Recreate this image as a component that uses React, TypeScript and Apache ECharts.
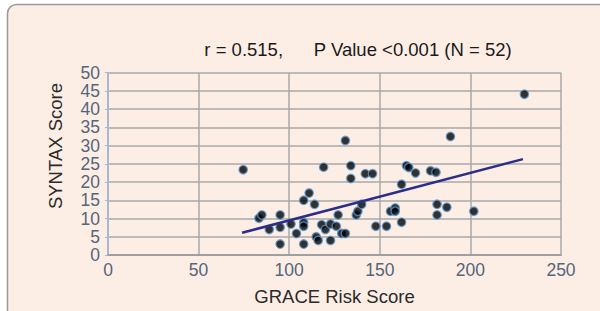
import React, { useEffect, useRef } from "react";
import * as echarts from "echarts";

const graceScores = [
  74.6, 83.3, 84.9, 89, 95, 95, 95, 101, 104, 108, 111, 114, 108, 108, 108, 114.9, 116, 117.9, 120, 119,
  122.8, 122.8, 126, 127, 129, 131, 131, 134, 134, 137, 137.9, 140, 142, 146, 147.8, 153.7, 155.9, 158.5, 158.5, 162,
  162, 164.7, 166, 169.7, 178, 181, 181.6, 181.6, 187, 189, 201.9, 229.8,
];
const syntaxScores = [
  23.4, 10.1, 11, 7, 11, 7.6, 3, 8.5, 5.9, 15, 17, 13.9, 8.9, 7.9, 3, 5, 4, 8.3, 7, 24.1,
  8.5, 4, 7.9, 11, 5.9, 5.9, 31.4, 24.5, 21, 11, 12, 13.9, 22.3, 22.3, 7.9, 7.9, 12, 12.9, 12, 9,
  19.4, 24.5, 24, 22.5, 23.1, 22.7, 13.9, 11, 13.1, 32.5, 12, 44.1,
];
const trendX = [74, 229];
const trendY = [6.1, 26.3];
const xTicks = [0, 50, 100, 150, 200, 250];
const yTicks = [0, 5, 10, 15, 20, 25, 30, 35, 40, 45, 50];
const titleText = "r = 0.515,      P Value <0.001 (N = 52)";
const xAxisName = "GRACE Risk Score";
const yAxisName = "SYNTAX Score";

export default function App() {
  const ref = useRef<HTMLDivElement>(null);
  useEffect(() => {
    if (!ref.current) return;
    const chart = echarts.init(ref.current, undefined, { renderer: "svg" });
    const font = "'Liberation Sans', Arial, sans-serif";
    chart.setOption({
      animation: false,
      backgroundColor: "#ffffff",
      graphic: [
        {
          type: "rect",
          z: -10,
          silent: true,
          shape: { x: 7.5, y: 4.5, width: 640, height: 340, r: 9 },
          style: { fill: "#fdeee5", stroke: "#9a9a9a", lineWidth: 1.5 },
        },
        {
          type: "text",
          x: 55,
          y: 146,
          rotation: Math.PI / 2,
          style: {
            text: yAxisName,
            fontFamily: font,
            fontSize: 18.5,
            fill: "#2a2a2a",
            align: "center",
            verticalAlign: "middle",
          },
        },
      ],
      title: {
        text: titleText,
        left: 353,
        textAlign: "center",
        top: 35,
        textStyle: { fontFamily: font, fontSize: 18.5, fontWeight: "normal", color: "#1a1a1a" },
      },
      grid: { left: 108, right: 39, top: 72.7, bottom: 55.3, containLabel: false },
      xAxis: {
        type: "value",
        min: xTicks[0],
        max: xTicks[xTicks.length - 1],
        interval: 50,
        name: xAxisName,
        nameLocation: "middle",
        nameGap: 32,
        nameTextStyle: { fontFamily: font, fontSize: 18.5, color: "#2a2a2a" },
        axisLine: { show: true, lineStyle: { color: "#a0a0a0", width: 2 } },
        axisTick: { show: false },
        axisLabel: { fontFamily: font, fontSize: 17.5, color: "#55657a", margin: 6 },
        splitLine: { show: true, lineStyle: { color: "#a8a8a8", width: 1.5 } },
      },
      yAxis: {
        type: "value",
        min: yTicks[0],
        max: yTicks[yTicks.length - 1],
        interval: 5,
        axisLine: { show: true, lineStyle: { color: "#a9b8cc", width: 2 } },
        axisTick: { show: true, length: 3, lineStyle: { color: "#a9b8cc" } },
        axisLabel: { fontFamily: font, fontSize: 17.5, color: "#55657a", margin: 8 },
        splitLine: { show: true, lineStyle: { color: "#a8a8a8", width: 1.5 } },
      },
      series: [
        {
          type: "scatter",
          data: graceScores.map((x, i) => [x, syntaxScores[i]]),
          symbol: "circle",
          symbolSize: 8.5,
          itemStyle: { color: "#000000", borderColor: "#5b9bd5", borderWidth: 1.3 },
          z: 3,
        },
        {
          type: "line",
          data: trendX.map((x, i) => [x, trendY[i]]),
          showSymbol: false,
          symbol: "none",
          lineStyle: { color: "#2b2d8a", width: 2.5 },
          z: 4,
        },
      ],
    });
    return () => chart.dispose();
  }, []);
  return (
    <div
      ref={ref}
      style={{ position: "fixed", left: 0, top: 0, width: 600, height: 311 }}
    />
  );
}
